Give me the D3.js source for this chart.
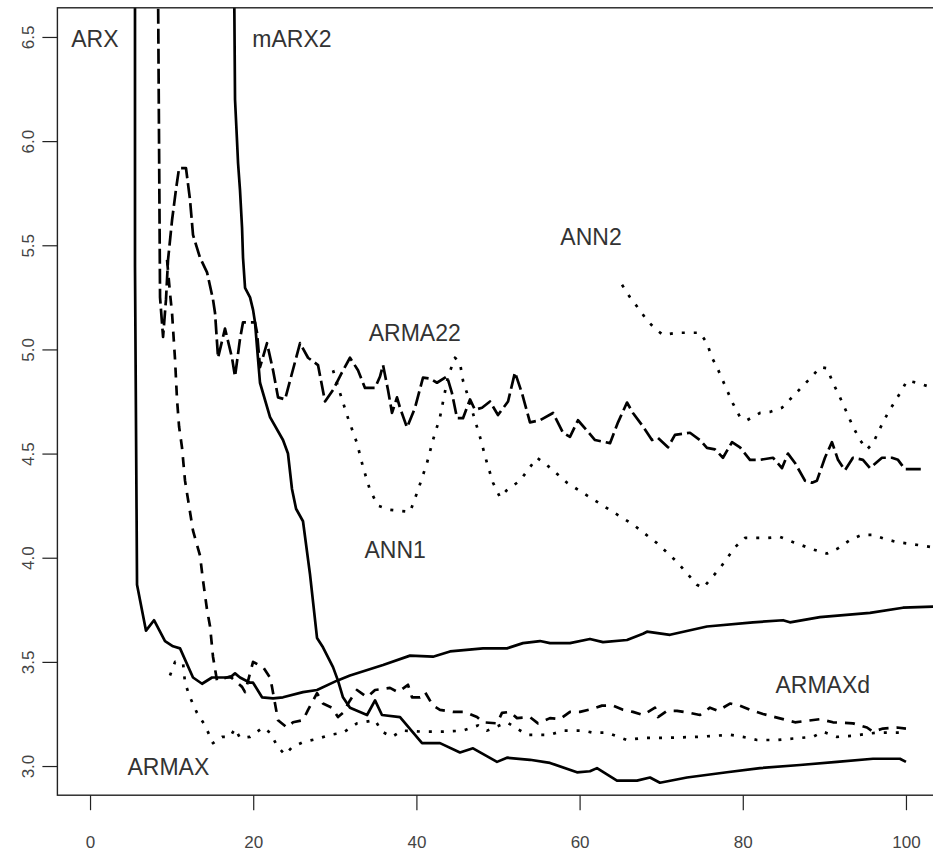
<!DOCTYPE html>
<html>
<head>
<meta charset="utf-8">
<script src="https://cdn.jsdelivr.net/npm/d3@7"></script>
<style>
  html, body { margin: 0; padding: 0; background: #fff; }
  svg { display: block; }
  text { font-family: "Liberation Sans", Arial, sans-serif; }
</style>
</head>
<body>
<div id="chart"></div>
<script>
// 数据：每条曲线 [x, y]
const arx = [[5.51,7.5],[5.51,5.40],[5.76,3.87],[6.86,3.65],[7.84,3.70],[9.19,3.60],[10.17,3.575],[11.03,3.565],[12.62,3.425],[13.73,3.395],[14.95,3.425],[17.16,3.425],[17.77,3.445],[18.38,3.425],[19.61,3.40],[19.98,3.40],[21.08,3.33],[22.43,3.325],[23.65,3.33],[26.10,3.355],[27.82,3.365],[30.27,3.41],[31.86,3.435],[35.91,3.485],[39.22,3.53],[42.03,3.525],[44.12,3.55],[48.16,3.565],[51.10,3.565],[53.06,3.59],[55.15,3.60],[56.37,3.59],[58.82,3.59],[61.27,3.61],[62.87,3.595],[65.81,3.605],[67.77,3.635],[68.26,3.645],[71.08,3.63],[75.61,3.67],[81.25,3.69],[84.93,3.70],[85.78,3.69],[89.46,3.715],[95.59,3.735],[99.63,3.76],[103.31,3.765],[106,3.77]];

const marx2 = [[17.52,7.5],[17.77,6.20],[18.01,6.005],[18.14,5.895],[18.38,5.765],[18.63,5.585],[18.75,5.44],[19.00,5.295],[19.61,5.25],[19.98,5.19],[20.22,5.13],[20.47,5.01],[20.83,4.84],[22.06,4.675],[23.65,4.565],[24.26,4.50],[24.75,4.33],[25.25,4.235],[26.10,4.175],[26.96,3.92],[27.82,3.615],[28.55,3.57],[29.78,3.475],[30.39,3.41],[31.00,3.33],[31.86,3.28],[33.95,3.245],[34.93,3.315],[35.78,3.245],[37.99,3.235],[40.69,3.11],[42.89,3.11],[45.34,3.065],[46.94,3.085],[49.88,3.02],[51.10,3.04],[53.92,3.03],[56.37,3.015],[59.68,2.97],[61.27,2.975],[62.13,2.99],[64.58,2.93],[67.03,2.93],[68.63,2.945],[69.85,2.92],[73.16,2.945],[78.06,2.97],[82.11,2.99],[87.01,3.005],[91.54,3.02],[95.96,3.035],[99.26,3.035],[100,3.02]];

const arma22 = [[8.21,7.5],[8.58,5.25],[8.95,5.06],[9.31,5.24],[9.56,5.43],[10.05,5.62],[10.54,5.77],[10.91,5.87],[11.76,5.87],[12.25,5.72],[12.62,5.55],[13.48,5.44],[14.34,5.37],[15.07,5.24],[15.32,5.175],[15.69,4.96],[16.54,5.10],[17.40,4.96],[17.77,4.87],[18.38,5.05],[18.75,5.13],[20.22,5.13],[20.47,5.08],[20.83,4.915],[21.69,5.03],[22.43,4.90],[23.04,4.77],[23.90,4.76],[24.51,4.85],[25.74,5.03],[26.72,4.96],[27.94,4.925],[28.80,4.75],[29.78,4.805],[30.88,4.89],[31.86,4.96],[32.84,4.90],[33.70,4.815],[34.93,4.815],[35.54,4.87],[35.91,4.925],[36.52,4.805],[37.01,4.695],[37.62,4.77],[37.99,4.72],[38.85,4.625],[39.83,4.72],[40.81,4.865],[41.67,4.86],[42.52,4.84],[43.75,4.87],[44.36,4.79],[44.98,4.67],[45.71,4.67],[46.57,4.76],[47.18,4.71],[48.04,4.72],[49.02,4.75],[50.00,4.685],[51.23,4.75],[52.08,4.89],[52.94,4.79],[53.92,4.65],[55.15,4.66],[56.74,4.695],[57.97,4.60],[58.82,4.58],[59.80,4.66],[60.91,4.61],[61.89,4.565],[63.73,4.55],[64.71,4.65],[65.81,4.745],[66.54,4.695],[67.77,4.63],[68.87,4.565],[69.61,4.575],[70.83,4.53],[71.69,4.59],[73.53,4.60],[74.75,4.565],[75.61,4.527],[76.59,4.52],[77.57,4.48],[78.68,4.555],[79.66,4.53],[80.88,4.47],[82.11,4.47],[83.70,4.48],[84.80,4.43],[85.54,4.50],[86.40,4.455],[87.62,4.37],[88.48,4.36],[89.09,4.37],[90.07,4.48],[90.93,4.555],[91.67,4.47],[92.52,4.42],[93.50,4.48],[94.73,4.47],[95.59,4.43],[97.06,4.48],[98.28,4.48],[99.02,4.47],[99.88,4.425],[102.33,4.425]];

const armaxd = [[9.44,5.43],[9.80,5.27],[10.05,5.175],[10.42,4.95],[10.66,4.76],[10.91,4.63],[11.27,4.53],[11.64,4.37],[12.62,4.13],[13.48,4.01],[13.85,3.89],[14.34,3.75],[14.71,3.67],[15.07,3.525],[15.56,3.41],[17.16,3.43],[18.63,3.38],[19.00,3.355],[19.98,3.50],[21.20,3.475],[22.06,3.425],[22.30,3.38],[23.04,3.22],[24.14,3.185],[24.88,3.21],[26.10,3.22],[26.72,3.27],[27.82,3.35],[28.55,3.30],[29.66,3.28],[30.39,3.235],[31.00,3.255],[31.86,3.315],[32.72,3.365],[33.95,3.33],[34.93,3.365],[36.76,3.375],[37.75,3.355],[38.97,3.39],[39.46,3.33],[40.44,3.33],[41.05,3.355],[42.03,3.29],[42.89,3.27],[44.49,3.26],[45.96,3.26],[47.43,3.235],[48.16,3.21],[49.88,3.205],[50.49,3.255],[51.47,3.26],[52.33,3.23],[53.92,3.235],[54.90,3.205],[56.37,3.23],[57.60,3.225],[58.82,3.26],[60.05,3.26],[61.64,3.275],[62.75,3.29],[64.09,3.29],[65.32,3.27],[66.54,3.26],[67.77,3.245],[69.24,3.28],[69.61,3.235],[70.71,3.265],[71.94,3.265],[73.53,3.255],[74.75,3.245],[75.98,3.28],[76.96,3.265],[78.43,3.30],[79.66,3.29],[81.25,3.265],[82.48,3.25],[83.95,3.235],[85.42,3.22],[86.40,3.21],[89.46,3.225],[91.05,3.21],[93.50,3.205],[95.22,3.185],[95.96,3.165],[97.18,3.18],[98.90,3.185],[100,3.18]];

const armax = [[9.80,3.435],[10.42,3.50],[11.40,3.495],[11.64,3.40],[12.25,3.33],[13.11,3.255],[14.09,3.195],[15.07,3.11],[16.18,3.14],[17.16,3.14],[17.77,3.18],[18.38,3.135],[19.61,3.14],[21.20,3.185],[22.06,3.16],[23.04,3.09],[23.90,3.055],[24.75,3.09],[26.10,3.115],[27.82,3.13],[29.41,3.15],[31.00,3.16],[32.72,3.205],[34.93,3.22],[35.78,3.165],[37.01,3.14],[38.24,3.17],[40.81,3.165],[43.26,3.165],[45.71,3.17],[47.55,3.195],[48.65,3.17],[51.10,3.21],[52.33,3.18],[53.55,3.15],[56.37,3.15],[57.97,3.17],[60.42,3.17],[61.64,3.16],[63.36,3.16],[65.81,3.125],[67.77,3.135],[70.22,3.135],[74.39,3.14],[78.43,3.15],[80.02,3.14],[81.74,3.125],[84.19,3.125],[87.01,3.135],[88.60,3.14],[89.83,3.165],[91.54,3.14],[93.50,3.145],[95.22,3.155],[96.45,3.16],[98.41,3.16],[100,3.16]];

const ann1 = [[29.78,4.90],[30.64,4.79],[31.62,4.67],[32.72,4.55],[33.46,4.435],[34.31,4.325],[35.29,4.25],[36.76,4.23],[39.22,4.22],[40.20,4.325],[41.30,4.455],[42.03,4.565],[42.89,4.675],[43.87,4.87],[44.73,4.96],[45.34,4.935],[45.71,4.85],[46.20,4.79],[47.18,4.66],[47.79,4.58],[48.65,4.455],[49.39,4.36],[50.25,4.29],[51.10,4.325],[52.70,4.37],[54.78,4.48],[56.00,4.445],[58.46,4.36],[61.27,4.29],[64.09,4.22],[66.54,4.16],[69.49,4.07],[71.94,3.98],[74.39,3.87],[75.12,3.855],[77.21,3.95],[79.04,4.05],[80.27,4.095],[83.09,4.095],[84.56,4.10],[86.15,4.075],[88.60,4.04],[90.32,4.02],[91.67,4.045],[93.14,4.085],[94.61,4.11],[95.96,4.11],[97.43,4.09],[98.90,4.075],[101.72,4.06],[103.31,4.05],[105,4.045]];

const ann2 = [[65.20,5.31],[66.18,5.25],[67.16,5.20],[68.26,5.14],[69.24,5.10],[70.22,5.07],[71.94,5.08],[73.28,5.08],[74.75,5.08],[75.61,5.03],[76.23,4.96],[76.84,4.915],[78.06,4.805],[78.80,4.74],[79.66,4.675],[80.51,4.66],[82.11,4.695],[83.33,4.70],[84.80,4.72],[86.03,4.77],[87.25,4.82],[88.48,4.87],[89.46,4.915],[90.32,4.91],[91.05,4.84],[91.91,4.77],[92.77,4.695],[93.50,4.63],[94.36,4.565],[95.22,4.52],[95.96,4.55],[97.06,4.64],[97.79,4.695],[98.65,4.75],[99.51,4.805],[100.12,4.85],[101.35,4.84],[102.94,4.82],[104.8,4.805]];

// 刻度与标注
const xTicks = [0, 20, 40, 60, 80, 100];
const yTicks = [3.0, 3.5, 4.0, 4.5, 5.0, 5.5, 6.0, 6.5];
const labelNames = ["ARX", "mARX2", "ARMA22", "ANN2", "ANN1", "ARMAX", "ARMAXd"];
const labelX = [0.6, 24.75, 39.8, 61.4, 37.4, 9.6, 89.8];
const labelY = [6.49, 6.49, 5.08, 5.54, 4.04, 2.995, 3.39];

const width = 933, height = 854;
const plot = { left: 57.4, right: 938.6, top: 7.8, bottom: 795.2 };

const svg = d3.select("#chart").append("svg")
  .attr("width", width)
  .attr("height", height);

const x = d3.scaleLinear().domain([-4, 104]).range([plot.left, plot.right]);
const y = d3.scaleLinear().domain([2.86, 6.64]).range([plot.bottom, plot.top]);

svg.append("clipPath").attr("id", "clip")
  .append("rect")
  .attr("x", plot.left).attr("y", plot.top)
  .attr("width", plot.right - plot.left)
  .attr("height", plot.bottom - plot.top);

// 曲线（线型：实线 / 长虚线 / 虚线 / 点线）
const series = [
  { data: arx, dash: null },
  { data: marx2, dash: null },
  { data: arma22, dash: "15,5" },
  { data: armaxd, dash: "10,8" },
  { data: armax, dash: "3,9" },
  { data: ann1, dash: "3,9" },
  { data: ann2, dash: "3,9" }
];

const line = d3.line().x(d => x(d[0])).y(d => y(d[1]));

svg.append("g").attr("clip-path", "url(#clip)")
  .selectAll("path")
  .data(series)
  .enter().append("path")
  .attr("d", d => line(d.data))
  .attr("fill", "none")
  .attr("stroke", "#000")
  .attr("stroke-width", 2.7)
  .attr("stroke-linejoin", "round")
  .attr("stroke-dasharray", d => d.dash);

// 边框
svg.append("rect")
  .attr("x", plot.left).attr("y", plot.top)
  .attr("width", plot.right - plot.left)
  .attr("height", plot.bottom - plot.top)
  .attr("fill", "none")
  .attr("stroke", "#222")
  .attr("stroke-width", 1.4);

// 坐标轴
const xAxis = svg.append("g")
  .attr("transform", `translate(0,${plot.bottom})`)
  .call(d3.axisBottom(x).tickValues(xTicks).tickSize(15).tickPadding(26).tickFormat(d3.format("d")));
const yAxis = svg.append("g")
  .attr("transform", `translate(${plot.left},0)`)
  .call(d3.axisLeft(y).tickValues(yTicks).tickSize(15).tickFormat(d3.format(".1f")));

[xAxis, yAxis].forEach(a => {
  a.select(".domain").remove();
  a.selectAll(".tick line").attr("stroke", "#222").attr("stroke-width", 1.2);
  a.selectAll(".tick text")
    .attr("fill", "#444")
    .style("font-size", "17px");
});

xAxis.selectAll(".tick text").attr("dy", "0.71em");
yAxis.selectAll(".tick text")
  .attr("x", null).attr("dy", null)
  .attr("text-anchor", "middle")
  .attr("transform", "translate(-23,0) rotate(-90)");

// 曲线名称
svg.append("g").selectAll("text")
  .data(labelNames)
  .enter().append("text")
  .attr("x", (d, i) => x(labelX[i]))
  .attr("y", (d, i) => y(labelY[i]))
  .attr("dy", "0.36em")
  .attr("text-anchor", "middle")
  .attr("fill", "#333")
  .style("font-size", "23px")
  .text(d => d);
</script>
</body>
</html>
